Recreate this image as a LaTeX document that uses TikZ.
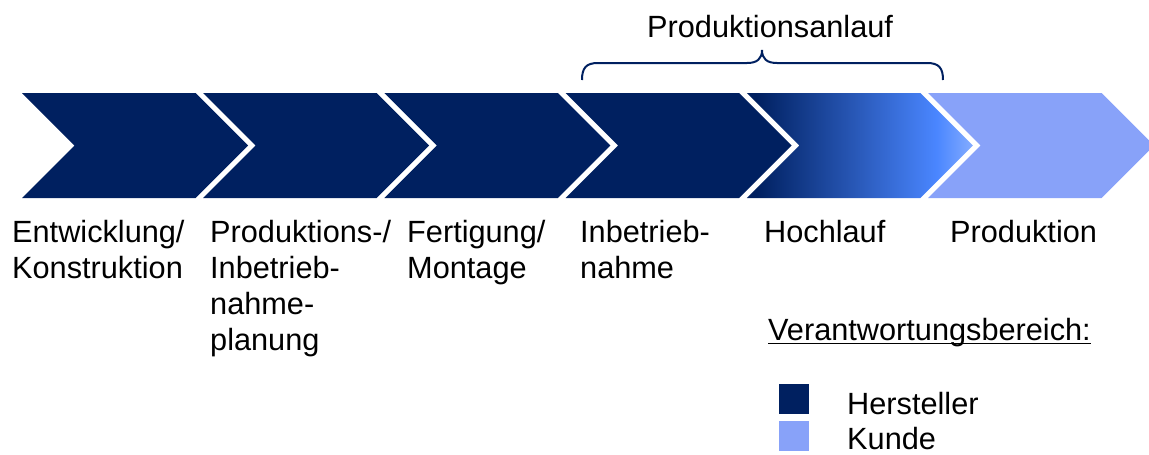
\documentclass[tikz,border=0pt]{standalone}
\usepackage{fontspec}
\setmainfont{Liberation Sans}
\definecolor{navy}{HTML}{002060}
\definecolor{kunde}{HTML}{88A2F9}
\definecolor{brightblue}{HTML}{4A86FF}
\definecolor{tipblue}{HTML}{84ACFF}
\pgfdeclarehorizontalshading{hochlauf}{100bp}{%
  color(0bp)=(navy); color(25bp)=(navy); color(27bp)=(navy);
  color(67bp)=(brightblue); color(75bp)=(tipblue); color(100bp)=(tipblue)}
% labels are anchored at the baseline of their last line
\tikzset{
  lbl/.style={inner sep=0pt, anchor=base west, align=left,
    font=\fontsize{30.7}{36}\selectfont},
  brace/.style={draw=navy, line width=2pt},
  legendbox/.style={minimum size=30pt, inner sep=0pt, anchor=north west}
}
% one chevron: #1 = left x of the top edge
\newcommand{\chevronshape}[1]{%
  (#1,93) -- ++(173.5,0) -- ++(52.5,52.5) -- ++(-52.5,52.5)
  -- ++(-173.5,0) -- ++(52.5,-52.5) -- cycle}
\begin{document}
\begin{tikzpicture}[x=1pt,y=-1pt]
\useasboundingbox (0,0) rectangle (1149,455);
\clip (0,0) rectangle (1149,455);

% process chevrons
\fill[navy] \chevronshape{22};
\fill[navy] \chevronshape{203.2};
\fill[navy] \chevronshape{384.4};
\fill[navy] \chevronshape{565.6};
\shade[shading=hochlauf] \chevronshape{746.8};
\fill[kunde] \chevronshape{928};

% brace over the ramp-up phases
\draw[brace] (582,80) .. controls (582,68) and (586,63) .. (598,63)
  -- (747,63) .. controls (757,63) and (762,59) .. (762,50)
  .. controls (762,59) and (767,63) .. (777,63)
  -- (927,63) .. controls (939,63) and (943,68) .. (943,80);
\node[lbl] (anlauf) at (647,37) {Produktionsanlauf};

% phase labels
\node[lbl] (l1) at (12,278) {Entwicklung/\\Konstruktion};
\node[lbl] (l2) at (210,350) {Produktions-/\\Inbetrieb-\\nahme-\\planung};
\node[lbl] (l3) at (407,278) {Fertigung/\\Montage};
\node[lbl] (l4) at (580,278) {Inbetrieb-\\nahme};
\node[lbl] (l5) at (764,242) {Hochlauf};
\node[lbl] (l6) at (950,242) {Produktion};

% legend
\node[lbl] (vb) at (768,340) {Verantwortungsbereich:};
\draw[line width=1.6pt] ([yshift=-3.5pt]vb.base west) -- ([yshift=-3.5pt]vb.base east);
\node[legendbox, fill=navy] (sqh) at (779,384) {};
\node[legendbox, fill=kunde] (sqk) at (779,421) {};
\node[lbl] (hst) at (847,414) {Hersteller};
\node[lbl] (knd) at (847,449) {Kunde};
\end{tikzpicture}
\end{document}
